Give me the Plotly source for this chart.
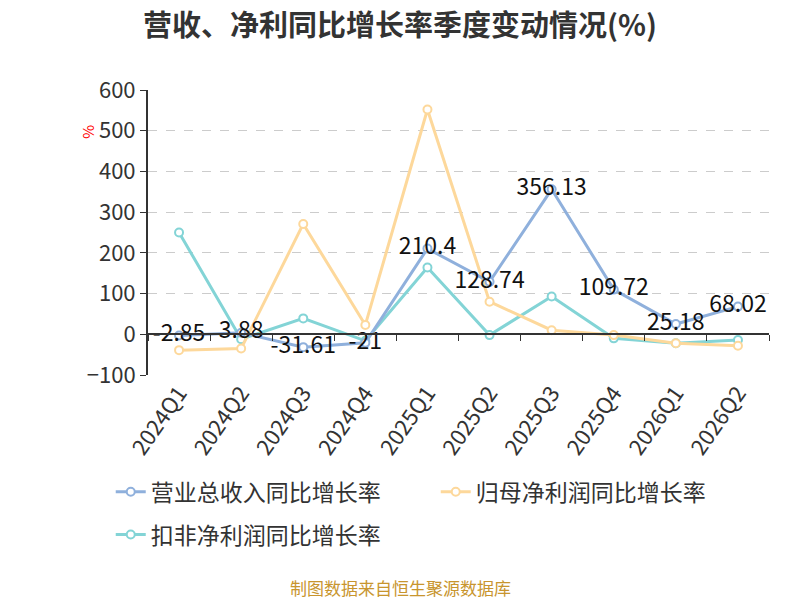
import plotly.graph_objects as go

quarters = ["2024Q1", "2024Q2", "2024Q3", "2024Q4", "2025Q1",
            "2025Q2", "2025Q3", "2025Q4", "2026Q1", "2026Q2"]
revenue_yoy = [-2.85, 3.88, -31.61, -21, 210.4, 128.74, 356.13, 109.72, 25.18, 68.02]
net_profit_yoy = [-39, -35, 271, 23, 552, 80, 10, -2, -22, -28]
deducted_profit_yoy = [250, -12, 39, -16, 164, -2, 93, -10, -22, -14]

names = ["营业总收入同比增长率", "归母净利润同比增长率", "扣非净利润同比增长率"]
colors = ["#8fb0dc", "#fdd89b", "#83d4d6"]
legends = ["legend", "legend", "legend2"]
font = "Noto Sans CJK SC"

fig = go.Figure()

series = [revenue_yoy, net_profit_yoy, deducted_profit_yoy]
# draw order: teal under, orange, then blue on top
for idx in [2, 1, 0]:
    fig.add_trace(go.Scatter(
        x=quarters, y=series[idx], name=names[idx],
        mode="lines+markers",
        line=dict(color=colors[idx], width=3),
        marker=dict(size=8, color="white", line=dict(color=colors[idx], width=2)),
        legendrank=idx + 1, legend=legends[idx],
    ))

fig.add_trace(go.Scatter(
    x=quarters, y=revenue_yoy, mode="text",
    text=[str(v) for v in revenue_yoy],
    textposition="middle center",
    textfont=dict(size=23, color="#111", family=font),
    showlegend=False, hoverinfo="skip",
))

legend_style = dict(orientation="h", xanchor="left", yanchor="middle",
                    font=dict(size=23, color="#333"), entrywidth=280,
                    bgcolor="rgba(0,0,0,0)")

# the page body adds an 8px offset, so margins are shifted back by 8px
fig.update_layout(
    width=800, height=600,
    margin=dict(l=140, r=39, t=82, b=233),
    plot_bgcolor="white", paper_bgcolor="white",
    font=dict(family=font, color="#333"),
    title=dict(text="<b>营收、净利同比增长率季度变动情况(%)</b>", x=0.49, xanchor="center",
               y=0.971, yanchor="middle", font=dict(size=29, color="#333")),
    legend=dict(x=-0.06, y=-0.41, **legend_style),
    legend2=dict(x=-0.06, y=-0.56, **legend_style),
    showlegend=True,
)

fig.update_xaxes(
    type="category", range=[-0.5, 9.5], showgrid=False, showline=False,
    ticks="", tickangle=-55, tickfont=dict(size=22, color="#333"), automargin=False,
)
fig.update_yaxes(
    range=[-100, 600], dtick=100, showline=True, linecolor="#333", linewidth=2,
    ticks="outside", ticklen=6, tickcolor="#333",
    gridcolor="#cccccc", griddash="dash", zeroline=False,
    tickfont=dict(size=22, color="#333"), automargin=False,
)

# category axis line sitting on the zero level
fig.update_layout(xaxis2=dict(
    overlaying="x", anchor="free", position=100 / 700, matches="x",
    type="category", showline=True, linecolor="#333", linewidth=2,
    ticks="outside", ticklen=6, tickcolor="#333", tickson="boundaries",
    showticklabels=False, showgrid=False, automargin=False,
))
fig.add_trace(go.Scatter(x=quarters, y=[None] * len(quarters), xaxis="x2",
                         showlegend=False, hoverinfo="skip"))

fig.add_annotation(text="%", xref="paper", yref="paper", x=-0.097, y=0.853,
                   xanchor="center", yanchor="middle",
                   showarrow=False, textangle=-90, font=dict(size=15, color="red"))
fig.add_annotation(text="制图数据来自恒生聚源数据库", xref="paper", yref="paper",
                   x=0.406, y=-0.747, xanchor="center", yanchor="middle", showarrow=False,
                   font=dict(size=17, color="#c8952e"))

fig.write_html("out.html")
